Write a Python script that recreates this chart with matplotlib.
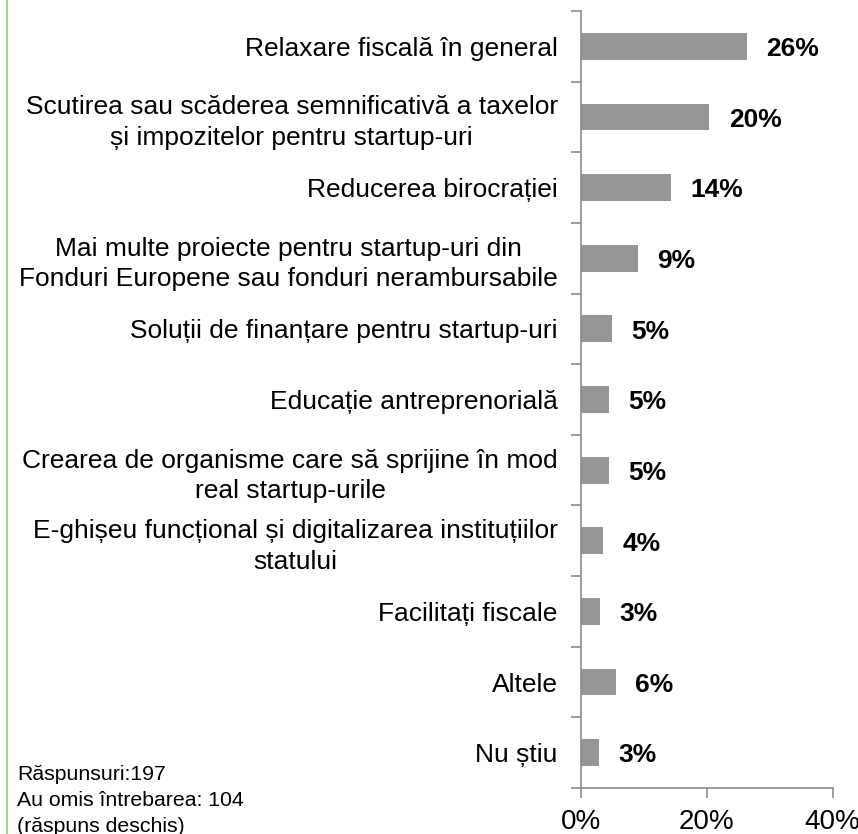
import matplotlib.pyplot as plt
import numpy as np

plt.rcParams['font.family'] = ['Liberation Sans', 'DejaVu Sans']

# categories top to bottom
categories = [
    "Relaxare fiscală în general",
    "Scutirea sau scăderea semnificativă a taxelor\nși impozitelor pentru startup-uri",
    "Reducerea birocrației",
    "Mai multe proiecte pentru startup-uri din\nFonduri Europene sau fonduri nerambursabile",
    "Soluții de finanțare pentru startup-uri",
    "Educație antreprenorială",
    "Crearea de organisme care să sprijine în mod\nreal startup-urile",
    "E-ghișeu funcțional și digitalizarea instituțiilor\nstatului",
    "Facilitați fiscale",
    "Altele",
    "Nu știu",
]
values = [26.4, 20.4, 14.3, 9.1, 5.0, 4.5, 4.5, 3.6, 3.1, 5.6, 2.9]
value_labels = ["26%", "20%", "14%", "9%", "5%", "5%", "5%", "4%", "3%", "6%", "3%"]
x_ticks = [0, 20, 40]
notes = ["Răspunsuri:197", "Au omis întrebarea: 104", "(răspuns deschis)"]

fig = plt.figure(figsize=(8.58, 8.34), dpi=100)
ax = fig.add_axes([0.6768, 0.0552, 0.2937, 0.9316])

n = len(categories)
y = np.arange(n)
ax.barh(y, values, height=0.38, color='#969696')
ax.set_ylim(n - 0.5, -0.5)
ax.set_xlim(0, 40)

for yi, v, lab in zip(y, values, value_labels):
    ax.annotate(lab, (v, yi), xytext=(14, -2), textcoords='offset points',
                va='center', ha='left', fontsize=19, fontweight='bold')

ax.set_yticks(y)
ax.set_yticklabels(categories, fontsize=19, multialignment='center', linespacing=1.35)
ax.tick_params(axis='y', which='major', length=0, pad=16.5)
ax.set_yticks(np.arange(-0.5, n, 1.0), minor=True)
ax.tick_params(axis='y', which='minor', length=7, color='#8c8c8c', width=1.2)

ax.set_xticks(x_ticks)
ax.set_xticklabels([f"{t}%" for t in x_ticks], fontsize=20)
ax.tick_params(axis='x', length=7, color='#8c8c8c', width=1.2, pad=8)

for s in ['top', 'right']:
    ax.spines[s].set_visible(False)
for s in ['left', 'bottom']:
    ax.spines[s].set_color('#8c8c8c')
    ax.spines[s].set_linewidth(1.2)

for i, t in enumerate(notes):
    fig.text(17 / 858, 1 - (775 + 26 * i) / 834, t, fontsize=15.3, va='center', ha='left')

fig.add_artist(plt.Line2D([7 / 858, 7 / 858], [0, 1], color='#a9d18e', lw=1.5))

fig.savefig('out.png', dpi=100)
